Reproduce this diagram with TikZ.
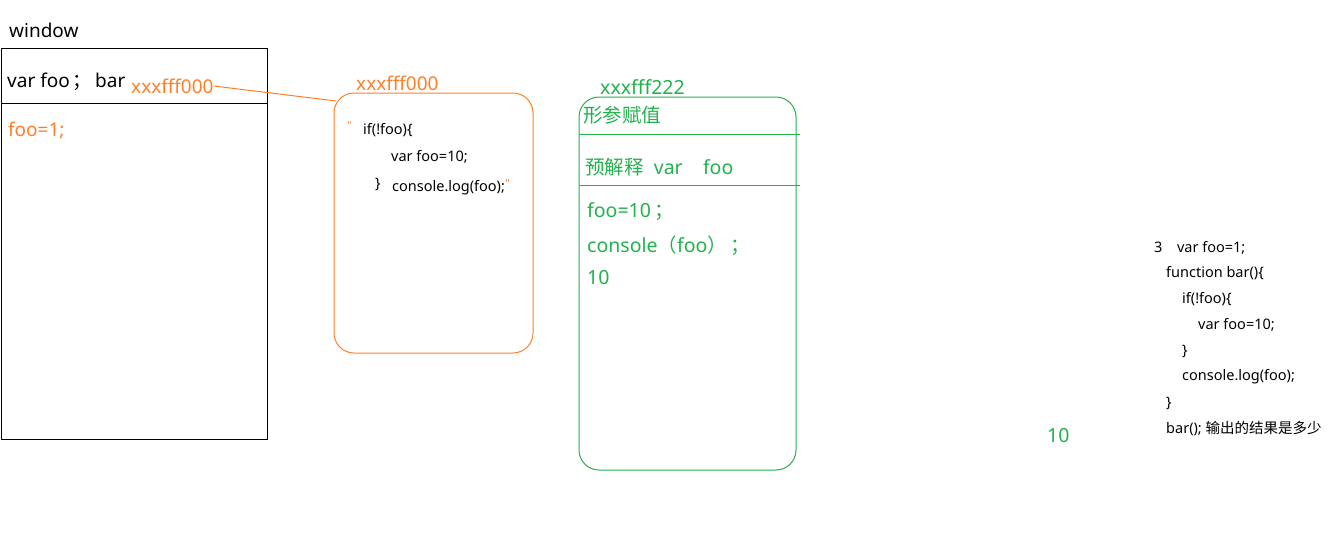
\documentclass[tikz,border=0pt]{standalone}
\usepackage{fontspec}
\setmainfont{Noto Sans}
\newfontfamily\cjk{Noto Sans CJK SC}
\newfontfamily\rawfont{Noto Sans}

\definecolor{paintorange}{HTML}{FF7F27}
\definecolor{paintgreen}{HTML}{22B14C}

\tikzset{
    txt/.style={anchor=west, inner sep=0pt, font=\fontsize{19}{22}\selectfont},
    code/.style={anchor=west, inner sep=0pt, font=\fontsize{14.5}{17}\selectfont},
    orgtxt/.style={txt, text=paintorange},
    grntxt/.style={txt, text=paintgreen, font=\fontsize{19.5}{22}\selectfont},
    quotemark/.style={anchor=west, inner sep=0pt, text=paintorange, font=\rawfont\fontsize{11}{13}\selectfont},
    boxline/.style={line width=1pt},
}

\begin{document}
\begin{tikzpicture}[x=1pt, y=-1pt]
    \useasboundingbox (0,0) rectangle (1344,549);

    % Draw window
    \node[txt] (win) at (9,30) {window};
    \draw[boxline, black] (1,48) rectangle (267,439);
    \draw[boxline, black] (1,103) -- (267,103);
    \node[txt] (varfoo) at (7,82) {var foo\,{\cjk ；}\,bar};
    \node[orgtxt] (ref0) at (131,86) {xxxfff000};
    \node[orgtxt] (fooone) at (8,130) {foo=1;};

    % Draw function object
    \draw[boxline, paintorange, rounded corners=20pt] (334,93) rectangle (533,353);
    \node[orgtxt] (addr0) at (356,83) {xxxfff000};
    \coordinate (fncorner) at (336,101);
    \draw[boxline, paintorange] (ref0.east) -- (fncorner);

    \node[quotemark] (q1) at (347,126) {"};
    \node[code] (fn1) at (363,130) {if(!foo)\{};
    \node[code] (fn2) at (391,157) {var foo=10;};
    \node[code] (fn3) at (375,184) {\}};
    \node[code] (fn4) at (392,188) {console.log(foo);};
    \node[quotemark] (q2) at ([yshift=4pt]fn4.east) {"};

    % Draw execution context
    \draw[boxline, paintgreen, rounded corners=20pt] (579,97) rectangle (796,470);
    \draw[boxline, paintgreen] (579,134) -- (800,134);
    \draw[boxline, paintgreen] (579,185) -- (800,185);
    \node[grntxt] (addr2) at (600,87) {xxxfff222};
    \node[grntxt] (ctx1) at (583,115) {\cjk 形参赋值};
    \node[grntxt] (ctx2) at (585,167) {{\cjk 预解释}\ \ var\ \ \ \ foo};
    \node[grntxt] (ctx3) at (587,212) {foo=10\,{\cjk ；}};
    \node[grntxt] (ctx4) at (587,246) {console{\cjk （}foo{\cjk ）}\,{\cjk ；}};
    \node[grntxt] (ctx5) at (587,278) {10};

    % Answer
    \node[grntxt] (answer) at (1047,436) {10};

    % Question code
    \node[code] (q3) at (1154,248) {3\quad var foo=1;};
    \node[code] (qa) at (1166,273) {function bar()\{};
    \node[code] (qb) at (1182,299) {if(!foo)\{};
    \node[code] (qc) at (1198,325) {var foo=10;};
    \node[code] (qd) at (1182,351) {\}};
    \node[code] (qe) at (1182,377) {console.log(foo);};
    \node[code] (qf) at (1166,403) {\}};
    \node[code] (qg) at (1166,429) {bar();\ {\cjk 输出的结果是多少}};
\end{tikzpicture}
\end{document}
